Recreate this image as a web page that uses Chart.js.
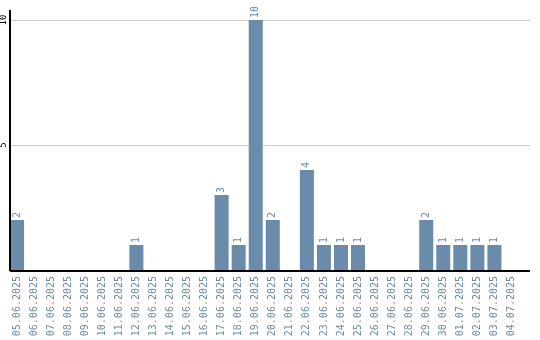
<!DOCTYPE html>
<html>
<head>
<meta charset="utf-8">
<script src="https://cdn.jsdelivr.net/npm/chart.js@4"></script>
<style>
  html, body { margin: 0; padding: 0; background: #fff; }
  #wrap { width: 540px; height: 340px; }
</style>
</head>
<body>
<div id="wrap"><canvas id="myChart"></canvas></div>
<script>
const days = ['05.06.2025', '06.06.2025', '07.06.2025', '08.06.2025', '09.06.2025', '10.06.2025',
  '11.06.2025', '12.06.2025', '13.06.2025', '14.06.2025', '15.06.2025', '16.06.2025', '17.06.2025',
  '18.06.2025', '19.06.2025', '20.06.2025', '21.06.2025', '22.06.2025', '23.06.2025', '24.06.2025',
  '25.06.2025', '26.06.2025', '27.06.2025', '28.06.2025', '29.06.2025', '30.06.2025', '01.07.2025',
  '02.07.2025', '03.07.2025', '04.07.2025'];
const counts = [2, 0, 0, 0, 0, 0, 0, 1, 0, 0, 0, 0, 3, 1, 10, 2, 0, 4, 1, 1, 1, 0, 0, 0, 2, 1, 1, 1, 1, 0];
const yTicks = [5, 10];

const blue = 'rgb(106, 140, 170)';
const mono = '"DejaVu Sans Mono", monospace';

// grid lines, value labels, y tick labels and the axes
const extras = {
  id: 'extras',
  beforeDatasetsDraw(chart) {
    const c = chart.ctx;
    const area = chart.chartArea;
    const y = chart.scales.y;
    c.save();
    c.strokeStyle = '#cccccc';
    c.lineWidth = 1;
    yTicks.forEach(v => {
      const py = Math.round(y.getPixelForValue(v)) + 0.5;
      c.beginPath();
      c.moveTo(10, py);
      c.lineTo(530, py);
      c.stroke();
    });
    c.restore();
  },
  afterDatasetsDraw(chart) {
    const c = chart.ctx;
    const area = chart.chartArea;
    const meta = chart.getDatasetMeta(0);
    c.save();
    c.fillStyle = blue;
    c.font = '10px ' + mono;
    c.textAlign = 'left';
    c.textBaseline = 'middle';
    meta.data.forEach((bar, i) => {
      if (!counts[i]) return;
      c.save();
      c.translate(bar.x, bar.y - 2);
      c.rotate(-Math.PI / 2);
      c.fillText(String(counts[i]), 0, 0);
      c.restore();
    });
    // y ticks
    const y = chart.scales.y;
    c.fillStyle = '#000';
    c.font = '9px ' + mono;
    c.textAlign = 'center';
    yTicks.forEach(v => {
      c.save();
      c.translate(4, y.getPixelForValue(v));
      c.rotate(-Math.PI / 2);
      c.fillText(String(v), 0, 0);
      c.restore();
    });
    // axes
    c.strokeStyle = '#000';
    c.lineWidth = 2;
    c.beginPath();
    c.moveTo(10, area.bottom + 1);
    c.lineTo(530, area.bottom + 1);
    c.stroke();
    c.beginPath();
    c.moveTo(10, area.top);
    c.lineTo(10, area.bottom + 1);
    c.stroke();
    c.restore();
  }
};

new Chart(document.getElementById('myChart'), {
  type: 'bar',
  data: {
    labels: days,
    datasets: [{
      data: counts,
      backgroundColor: blue,
      barPercentage: 14 / 17,
      categoryPercentage: 1
    }]
  },
  options: {
    responsive: true,
    maintainAspectRatio: false,
    animation: false,
    layout: { padding: { top: 10, right: 20, left: 0, bottom: 0 } },
    plugins: { legend: { display: false }, tooltip: { enabled: false } },
    scales: {
      x: {
        grid: { display: false, drawTicks: false },
        border: { display: false },
        ticks: {
          color: blue,
          font: { family: mono, size: 10 },
          minRotation: 90,
          maxRotation: 90,
          autoSkip: false,
          padding: 6
        },
        afterFit(scale) { scale.height = 70; }
      },
      y: {
        min: 0,
        max: 10.4,
        afterBuildTicks(scale) { scale.ticks = yTicks.map(v => ({ value: v })); },
        grid: { display: false },
        border: { display: false },
        ticks: { display: false },
        afterFit(scale) { scale.width = 8.5; }
      }
    }
  },
  plugins: [extras]
});
</script>
</body>
</html>
